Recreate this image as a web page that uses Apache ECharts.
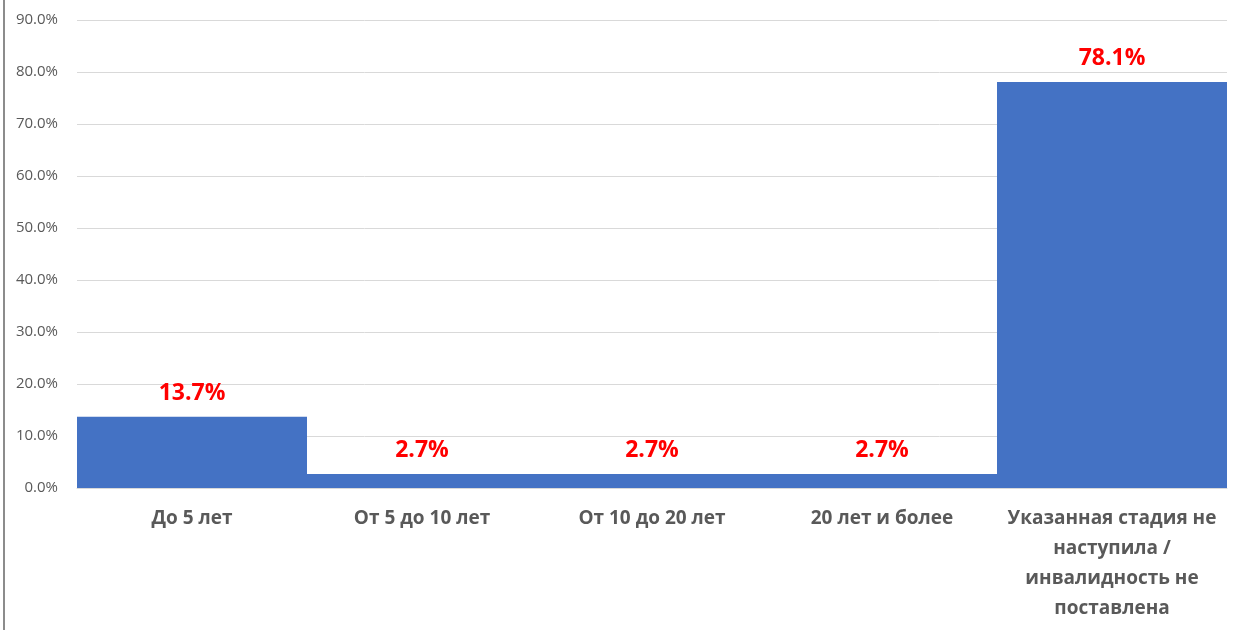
<!DOCTYPE html>
<html>
<head>
    <meta charset="utf-8">
    <title>chart</title>
    <script src="https://cdn.jsdelivr.net/npm/echarts@6/dist/echarts.min.js"></script>
    <style>
        html, body {margin: 0; padding: 0; background: #fff;}
        #mychat {width: 1238px; height: 630px;}
    </style>
</head>
<body>
<div id="mychat"></div>
<script>
    // данные
    var categories = ['До 5 лет', 'От 5 до 10 лет', 'От 10 до 20 лет', '20 лет и более',
        'Указанная стадия не\nнаступила /\nинвалидность не\nпоставлена'];
    var values = [13.7, 2.7, 2.7, 2.7, 78.1];
    var yTicks = [0, 10, 20, 30, 40, 50, 60, 70, 80, 90];

    var myChart = echarts.init(document.getElementById('mychat'));
    var option = {
        animation: false,
        color: ['#4472C4'],
        grid: {
            left: 77,
            right: 11,
            top: 20,
            bottom: 142
        },
        xAxis: [{
            type: 'category',
            data: categories,
            axisLine: {show: true, lineStyle: {color: '#d9d9d9'}},
            axisTick: {show: false},
            axisLabel: {
                color: '#595959',
                fontFamily: 'Open Sans',
                fontWeight: 'bold',
                fontSize: 19,
                lineHeight: 30,
                margin: 16,
                interval: 0
            }
        }],
        yAxis: [{
            type: 'value',
            min: yTicks[0],
            max: yTicks[yTicks.length - 1],
            interval: 10,
            axisLine: {show: false},
            axisTick: {show: false},
            splitLine: {lineStyle: {color: '#d9d9d9'}},
            axisLabel: {
                color: '#595959',
                fontFamily: 'Open Sans',
                fontSize: 15,
                margin: 19,
                formatter: function (v) { return v.toFixed(1) + '%'; }
            }
        }],
        series: [{
            name: 'share',
            type: 'bar',
            barCategoryGap: '0%',
            data: values,
            label: {
                show: true,
                position: 'top',
                distance: 12,
                color: '#ff0000',
                fontFamily: 'Open Sans',
                fontWeight: 'bold',
                fontSize: 23,
                formatter: function (p) { return p.value.toFixed(1) + '%'; }
            }
        }],
        graphic: [{
            type: 'line',
            shape: {x1: 4, y1: 0, x2: 4, y2: 630},
            style: {stroke: '#8c8c8c', lineWidth: 2}
        }]
    };
    myChart.setOption(option);
</script>
</body>
</html>
